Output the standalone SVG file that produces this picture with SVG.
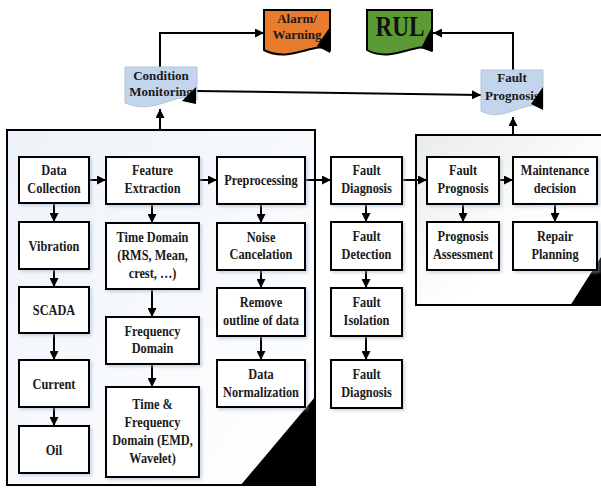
<svg xmlns="http://www.w3.org/2000/svg" width="601" height="488" viewBox="0 0 601 488">
<defs>
<style>
.box{fill:#fff;stroke:#000;stroke-width:2;filter:url(#sh)}
.t{font-family:"Liberation Serif","Times New Roman",serif;font-weight:bold;font-size:14px;text-anchor:middle;fill:#1a1a1a}
.dt{font-family:"Liberation Serif","Times New Roman",serif;font-weight:bold;font-size:13px;text-anchor:middle;fill:#1a1a1a}
.ln{fill:none;stroke:#000;stroke-width:2}
.ar{fill:none;stroke:#000;stroke-width:2;marker-end:url(#ah)}
</style>
<marker id="ah" viewBox="0 0 10 10" refX="10" refY="5" markerUnits="userSpaceOnUse" markerWidth="9" markerHeight="9" orient="auto"><path d="M0,0 L10,5 L0,10 z" fill="#000"/></marker>
<filter id="sh" x="-10%" y="-10%" width="130%" height="130%"><feDropShadow dx="2" dy="2" stdDeviation="1.5" flood-color="#9fb3cc" flood-opacity="0.5"/></filter>
<linearGradient id="gl" x1="0" y1="0" x2="1" y2="1"><stop offset="0" stop-color="#eef3f9"/><stop offset="1" stop-color="#ffffff"/></linearGradient>
<linearGradient id="gr" x1="0" y1="0" x2="1" y2="1"><stop offset="0" stop-color="#e9ede9"/><stop offset="0.6" stop-color="#ffffff"/></linearGradient>
</defs>

<g id="left-panel">
<rect x="7" y="130" width="308" height="355" fill="url(#gl)" stroke="#000" stroke-width="2"/>
<polygon points="315,397 315,486 240,486" fill="#000"/>
</g>
<g id="right-panel">
<rect x="416" y="135" width="200" height="170" fill="url(#gr)" stroke="#000" stroke-width="2"/>
<polygon points="601,257 601,306 570,306" fill="#000"/>
</g>

<g id="connectors">
<path class="ar" d="M160,130 V109"/>
<path class="ar" d="M160,67 V33 H264"/>
<path class="ar" d="M513,135 V117"/>
<path class="ar" d="M513,70 V33 H433"/>
<path class="ar" d="M196,91 L481,95"/>
<path class="ar" d="M89,180 H106"/>
<path class="ar" d="M199,180 H217"/>
<path class="ar" d="M305,180 H331"/>
<path class="ar" d="M402,180 H427"/>
<path class="ar" d="M499,180 H513"/>
<path class="ar" d="M54,203 V222"/>
<path class="ar" d="M54,269 V287"/>
<path class="ar" d="M54,333 V360"/>
<path class="ar" d="M54,407 V426"/>
<path class="ar" d="M152,204 V223"/>
<path class="ar" d="M152,289 V317"/>
<path class="ar" d="M152,364 V387"/>
<path class="ar" d="M261,204 V223"/>
<path class="ar" d="M261,270 V288"/>
<path class="ar" d="M261,336 V360"/>
<path class="ar" d="M366,204 V222"/>
<path class="ar" d="M366,270 V288"/>
<path class="ar" d="M366,336 V360"/>
<path class="ar" d="M463,204 V222"/>
<path class="ar" d="M555,204 V222"/>
</g>

<g id="condition-monitoring">
<path d="M125,67 H197 V100 C175,90 157,116 125,103 Z" fill="#c3d5ec" stroke="#b8c2d0" stroke-width="1"/>
<text class="dt" x="161" y="80">Condition</text>
<text class="dt" x="161" y="96">Monitoring</text>
<polygon points="196,87 196,104 182,101" fill="#000"/>
</g>
<g id="alarm-warning">
<path d="M264,10 H330 V50 C316,40 290,64 264,50 Z" fill="#e97b2f" stroke="#000" stroke-width="2"/>
<text class="dt" x="297" y="23">Alarm/</text>
<text class="dt" x="297" y="39">Warning</text>
<polygon points="330,27 330,53 317,46" fill="#000"/>
</g>
<g id="rul">
<path d="M367,10 H432 V50 C418,40 392,64 367,50 Z" fill="#5c9a36" stroke="#000" stroke-width="2"/>
<text transform="translate(400,36) scale(0.8,1)" font-family="Liberation Serif, Times New Roman, serif" font-weight="bold" font-size="29" text-anchor="middle" fill="#111">RUL</text>
<polygon points="432,27 432,52 421,48" fill="#000"/>
</g>
<g id="fault-prognosis-top">
<path d="M481,70 H543 V108 C525,98 503,124 481,111 Z" fill="#c3d5ec" stroke="#b8c2d0" stroke-width="1"/>
<text class="dt" x="512" y="82">Fault</text>
<text class="dt" x="512" y="100">Prognosis</text>
<polygon points="543,87 543,110 531,104" fill="#000"/>
</g>

<g id="data-collection"><rect class="box" x="19" y="157" width="70" height="46"/>
<text class="t" transform="translate(54,175) scale(0.88,1)"><tspan x="0">Data</tspan><tspan x="0" dy="18">Collection</tspan></text></g>
<g id="feature-extraction"><rect class="box" x="106" y="157" width="93" height="47"/>
<text class="t" transform="translate(152.5,175) scale(0.88,1)"><tspan x="0">Feature</tspan><tspan x="0" dy="18">Extraction</tspan></text></g>
<g id="preprocessing"><rect class="box" x="217" y="157" width="88" height="47"/>
<text class="t" transform="translate(261,185) scale(0.88,1)"><tspan x="0">Preprocessing</tspan></text></g>
<g id="fault-diagnosis"><rect class="box" x="331" y="157" width="71" height="47"/>
<text class="t" transform="translate(366.5,175) scale(0.88,1)"><tspan x="0">Fault</tspan><tspan x="0" dy="18">Diagnosis</tspan></text></g>
<g id="fault-prognosis"><rect class="box" x="427" y="157" width="72" height="47"/>
<text class="t" transform="translate(463,175) scale(0.88,1)"><tspan x="0">Fault</tspan><tspan x="0" dy="18">Prognosis</tspan></text></g>
<g id="maintenance-decision"><rect class="box" x="513" y="157" width="84" height="47"/>
<text class="t" transform="translate(555,175) scale(0.88,1)"><tspan x="0">Maintenance</tspan><tspan x="0" dy="18">decision</tspan></text></g>

<g id="vibration"><rect class="box" x="19" y="222" width="70" height="47"/>
<text class="t" transform="translate(54,251) scale(0.88,1)"><tspan x="0">Vibration</tspan></text></g>
<g id="time-domain"><rect class="box" x="106" y="223" width="93" height="66"/>
<text class="t" transform="translate(152.5,242) scale(0.88,1)"><tspan x="0">Time Domain</tspan><tspan x="0" dy="18">(RMS, Mean,</tspan><tspan x="0" dy="18">crest, …)</tspan></text></g>
<g id="noise-cancelation"><rect class="box" x="217" y="223" width="88" height="47"/>
<text class="t" transform="translate(261,241.5) scale(0.88,1)"><tspan x="0">Noise</tspan><tspan x="0" dy="18">Cancelation</tspan></text></g>
<g id="fault-detection"><rect class="box" x="331" y="222" width="71" height="48"/>
<text class="t" transform="translate(366.5,241) scale(0.88,1)"><tspan x="0">Fault</tspan><tspan x="0" dy="18">Detection</tspan></text></g>
<g id="prognosis-assessment"><rect class="box" x="427" y="222" width="72" height="48"/>
<text class="t" transform="translate(463,241) scale(0.88,1)"><tspan x="0">Prognosis</tspan><tspan x="0" dy="18">Assessment</tspan></text></g>
<g id="repair-planning"><rect class="box" x="513" y="222" width="84" height="48"/>
<text class="t" transform="translate(555,241) scale(0.88,1)"><tspan x="0">Repair</tspan><tspan x="0" dy="18">Planning</tspan></text></g>

<g id="scada"><rect class="box" x="19" y="287" width="70" height="46"/>
<text class="t" transform="translate(54,315) scale(0.88,1)"><tspan x="0">SCADA</tspan></text></g>
<g id="remove-outline"><rect class="box" x="217" y="288" width="88" height="48"/>
<text class="t" transform="translate(261,307) scale(0.88,1)"><tspan x="0">Remove</tspan><tspan x="0" dy="18">outline of data</tspan></text></g>
<g id="frequency-domain"><rect class="box" x="106" y="317" width="93" height="47"/>
<text class="t" transform="translate(152.5,335.5) scale(0.88,1)"><tspan x="0">Frequency</tspan><tspan x="0" dy="18">Domain</tspan></text></g>
<g id="fault-isolation"><rect class="box" x="331" y="288" width="71" height="48"/>
<text class="t" transform="translate(366.5,307) scale(0.88,1)"><tspan x="0">Fault</tspan><tspan x="0" dy="18">Isolation</tspan></text></g>

<g id="current"><rect class="box" x="19" y="360" width="70" height="47"/>
<text class="t" transform="translate(54,389) scale(0.88,1)"><tspan x="0">Current</tspan></text></g>
<g id="data-normalization"><rect class="box" x="217" y="360" width="88" height="47"/>
<text class="t" transform="translate(261,379) scale(0.88,1)"><tspan x="0">Data</tspan><tspan x="0" dy="18">Normalization</tspan></text></g>
<g id="fault-diagnosis-2"><rect class="box" x="331" y="360" width="71" height="48"/>
<text class="t" transform="translate(366.5,379) scale(0.88,1)"><tspan x="0">Fault</tspan><tspan x="0" dy="18">Diagnosis</tspan></text></g>

<g id="oil"><rect class="box" x="19" y="426" width="70" height="47"/>
<text class="t" transform="translate(54,455) scale(0.88,1)"><tspan x="0">Oil</tspan></text></g>
<g id="time-frequency-domain"><rect class="box" x="106" y="387" width="93" height="90"/>
<text class="t" transform="translate(152.5,409) scale(0.88,1)"><tspan x="0">Time &amp;</tspan><tspan x="0" dy="18">Frequency</tspan><tspan x="0" dy="18">Domain (EMD,</tspan><tspan x="0" dy="18">Wavelet)</tspan></text></g>
</svg>
